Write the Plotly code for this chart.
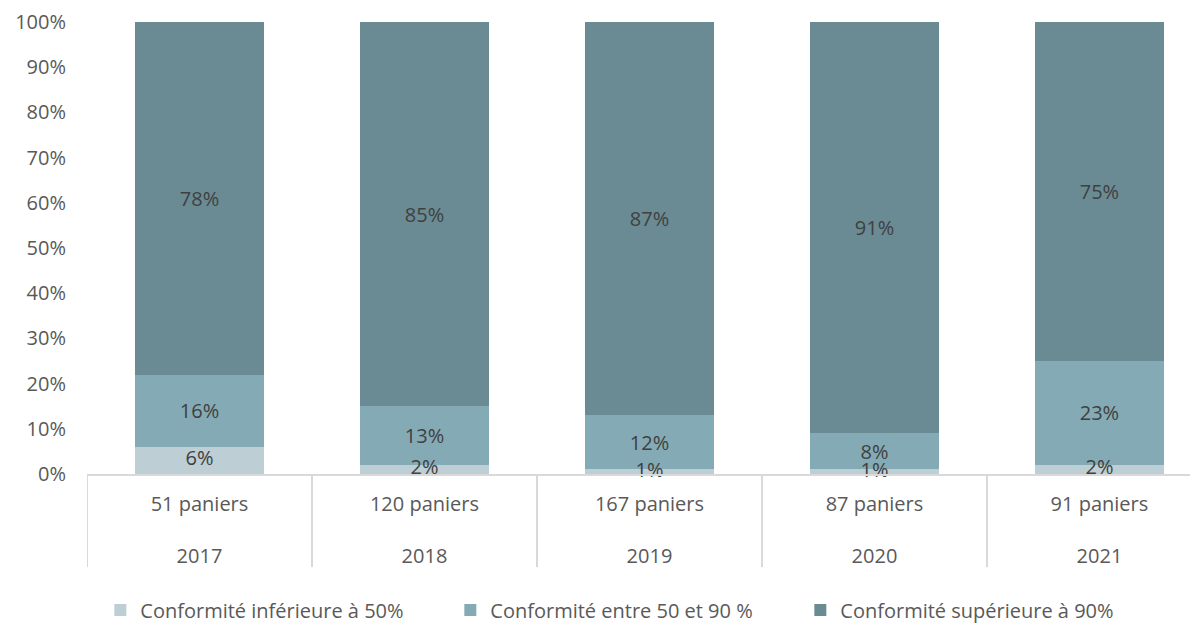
import plotly.graph_objects as go

years = ["2017", "2018", "2019", "2020", "2021"]
paniers = ["51 paniers", "120 paniers", "167 paniers", "87 paniers", "91 paniers"]
low = [6, 2, 1, 1, 2]
mid = [16, 13, 12, 8, 23]
high = [78, 85, 87, 91, 75]
names = ["Conformité inférieure à 50%", "Conformité entre 50 et 90 %", "Conformité supérieure à 90%"]
colors = ["#BDCED4", "#84ABB5", "#6A8B94"]

tick_text = [f"{p}<br><br>{y}" for p, y in zip(paniers, years)]

fig = go.Figure()
for k, (vals, name, col) in enumerate(zip([low, mid, high], names, colors)):
    fig.add_trace(go.Bar(
        x=years, y=vals, name=name, marker_color=col,
        marker_line_width=0,
        texttemplate="%{y}%" if k > 0 else None,
        textposition="inside" if k > 0 else "none",
        insidetextanchor="middle",
        textangle=0, constraintext="none",
        textfont=dict(color="#404040", size=20),
    ))

# labels of the lowest segment drawn on top (they overflow their thin segments)
fig.add_trace(go.Scatter(
    x=years, y=[v / 2 for v in low], mode="text",
    text=[f"{v}%" for v in low], textposition="middle center",
    textfont=dict(color="#404040", size=20, family="Open Sans, Noto Sans, sans-serif"),
    showlegend=False, hoverinfo="skip", cliponaxis=False,
))

# separators between categories (at category boundaries)
for i in range(len(years) + 1):
    fig.add_shape(type="line", xref="x", yref="paper",
                  x0=i - 0.5, x1=i - 0.5, y0=0, y1=-0.206,
                  line=dict(color="#D9D9D9", width=2))

fig.update_layout(
    barmode="stack", bargap=0.43,
    width=1190, height=616,
    margin=dict(l=79, r=0, t=14, b=150),
    plot_bgcolor="white", paper_bgcolor="white",
    font=dict(family="Open Sans, Noto Sans, sans-serif", size=20, color="#595959"),
    legend=dict(orientation="h", x=0.012, xanchor="left",
                yref="container", y=0.0227, yanchor="middle",
                font=dict(size=20, color="#595959"), traceorder="normal",
                entrywidth=305, itemwidth=30),
    showlegend=True,
)
# the last category is partly cut off at the right edge, as in the reference
fig.update_xaxes(type="category", categoryorder="array", categoryarray=years,
                 range=[-0.5, 4.438],
                 tickvals=years, ticktext=tick_text,
                 showline=True, linecolor="#D9D9D9", linewidth=2,
                 ticks="", automargin=False, ticklabelstandoff=11,
                 tickfont=dict(size=20, color="#595959"), showgrid=False)
fig.update_yaxes(range=[0, 100], tickvals=list(range(0, 101, 10)),
                 ticktext=[f"{v}%" for v in range(0, 101, 10)],
                 showgrid=False, zeroline=False, showline=False, automargin=False,
                 tickfont=dict(size=20, color="#595959"), ticklabelstandoff=20)

fig.write_html("out.html")
